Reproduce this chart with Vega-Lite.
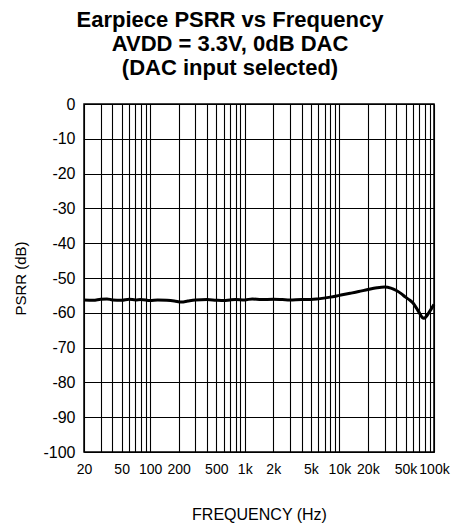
{
  "$schema": "https://vega.github.io/schema/vega-lite/v6.json",
  "width": 350,
  "height": 348,
  "autosize": "none",
  "padding": {"left": 84, "top": 104, "right": 24, "bottom": 77},
  "background": "white",
  "config": {
    "font": "Liberation Sans",
    "view": {"stroke": "black", "strokeWidth": 1.5}
  },
  "title": {
    "text": ["Earpiece PSRR vs Frequency", "AVDD = 3.3V, 0dB DAC", "(DAC input selected)"],
    "font": "Liberation Sans",
    "fontSize": 22,
    "fontWeight": "bold",
    "color": "black",
    "lineHeight": 24,
    "anchor": "middle",
    "dx": -29,
    "offset": 16
  },
  "data": {
    "values": [
      {"freq": 20, "psrr": -56.3},
      {"freq": 25, "psrr": -56.4},
      {"freq": 30, "psrr": -56.1},
      {"freq": 35, "psrr": -56.0},
      {"freq": 40, "psrr": -56.3},
      {"freq": 50, "psrr": -56.4},
      {"freq": 60, "psrr": -56.1},
      {"freq": 70, "psrr": -56.3},
      {"freq": 80, "psrr": -56.2},
      {"freq": 100, "psrr": -56.5},
      {"freq": 120, "psrr": -56.3},
      {"freq": 150, "psrr": -56.4},
      {"freq": 180, "psrr": -56.6},
      {"freq": 215, "psrr": -56.9},
      {"freq": 250, "psrr": -56.6},
      {"freq": 300, "psrr": -56.3},
      {"freq": 400, "psrr": -56.2},
      {"freq": 500, "psrr": -56.4},
      {"freq": 600, "psrr": -56.5},
      {"freq": 700, "psrr": -56.3},
      {"freq": 800, "psrr": -56.2},
      {"freq": 1000, "psrr": -56.3},
      {"freq": 1200, "psrr": -56.0},
      {"freq": 1500, "psrr": -56.2},
      {"freq": 2000, "psrr": -56.1},
      {"freq": 2500, "psrr": -56.2},
      {"freq": 3000, "psrr": -56.3},
      {"freq": 4000, "psrr": -56.2},
      {"freq": 5000, "psrr": -56.2},
      {"freq": 6000, "psrr": -56.0},
      {"freq": 8000, "psrr": -55.5},
      {"freq": 10000, "psrr": -55.0},
      {"freq": 13000, "psrr": -54.4},
      {"freq": 16000, "psrr": -53.9},
      {"freq": 20000, "psrr": -53.3},
      {"freq": 25000, "psrr": -52.8},
      {"freq": 30000, "psrr": -52.6},
      {"freq": 35000, "psrr": -52.9},
      {"freq": 40000, "psrr": -53.6},
      {"freq": 45000, "psrr": -54.5},
      {"freq": 50000, "psrr": -55.5},
      {"freq": 55000, "psrr": -56.3},
      {"freq": 60000, "psrr": -57.2},
      {"freq": 65000, "psrr": -58.6},
      {"freq": 70000, "psrr": -60.0},
      {"freq": 75000, "psrr": -61.3},
      {"freq": 78000, "psrr": -61.6},
      {"freq": 82000, "psrr": -61.2},
      {"freq": 88000, "psrr": -60.0},
      {"freq": 94000, "psrr": -58.8},
      {"freq": 100000, "psrr": -57.6}
    ]
  },
  "mark": {"type": "line", "color": "black", "strokeWidth": 3, "interpolate": "monotone"},
  "encoding": {
    "x": {
      "field": "freq",
      "type": "quantitative",
      "scale": {"type": "log", "domain": [20, 100000], "nice": false},
      "axis": {
        "title": "FREQUENCY (Hz)",
        "titleFont": "Liberation Sans",
        "titleFontSize": 16,
        "titleFontWeight": "normal",
        "titleColor": "black",
        "titlePadding": 30,
        "values": [20, 30, 40, 50, 60, 70, 80, 90, 100, 200, 300, 400, 500, 600, 700, 800, 900, 1000, 2000, 3000, 4000, 5000, 6000, 7000, 8000, 9000, 10000, 20000, 30000, 40000, 50000, 60000, 70000, 80000, 90000, 100000],
        "labelExpr": "datum.value >= 1000 ? (indexof([1000, 2000, 5000, 10000, 20000, 50000, 100000], datum.value) >= 0 ? (datum.value / 1000) + 'k' : '') : (indexof([20, 50, 100, 200, 500], datum.value) >= 0 ? datum.value + '' : '')",
        "labelOverlap": false,
        "labelBound": false,
        "labelFlush": false,
        "labelFont": "Liberation Sans",
        "labelFontSize": 14,
        "labelColor": "black",
        "labelPadding": 10,
        "ticks": false,
        "domain": false,
        "grid": true,
        "gridColor": "black",
        "gridOpacity": 1,
        "gridWidth": 1.1
      }
    },
    "y": {
      "field": "psrr",
      "type": "quantitative",
      "scale": {"domain": [-100, 0], "nice": false},
      "axis": {
        "title": "PSRR (dB)",
        "titleFont": "Liberation Sans",
        "titleFontSize": 15,
        "titleFontWeight": "normal",
        "titleColor": "black",
        "titlePadding": 14,
        "values": [0, -10, -20, -30, -40, -50, -60, -70, -80, -90, -100],
        "labelExpr": "datum.value + ''",
        "labelFont": "Liberation Sans",
        "labelFontSize": 16,
        "labelColor": "black",
        "labelPadding": 9,
        "labelOverlap": false,
        "labelBound": false,
        "labelFlush": false,
        "ticks": false,
        "domain": false,
        "grid": true,
        "gridColor": "black",
        "gridOpacity": 1,
        "gridWidth": 1.1
      }
    }
  }
}
